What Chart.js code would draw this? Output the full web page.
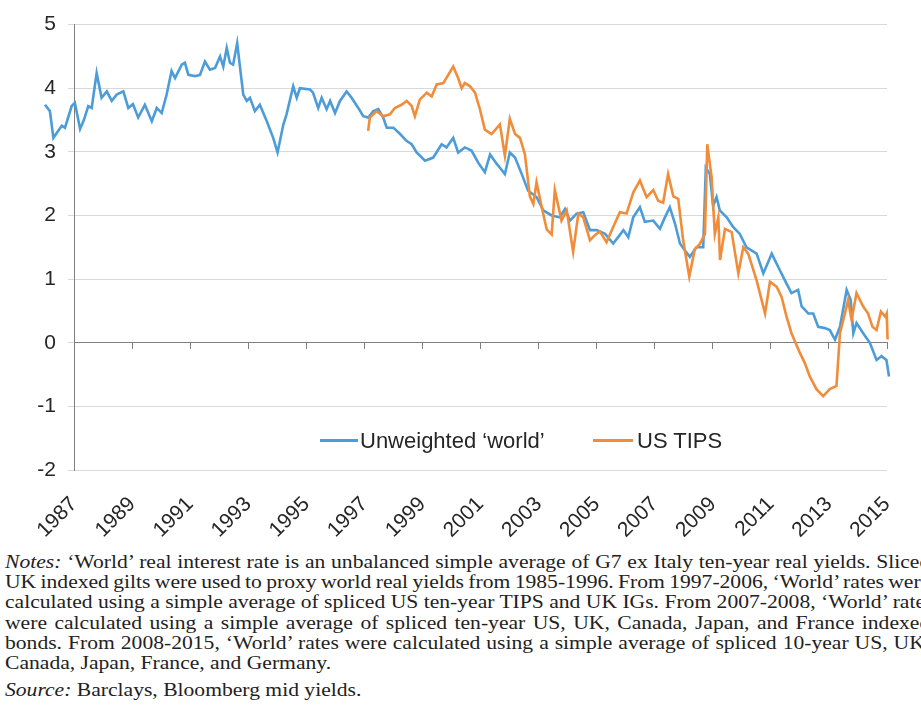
<!DOCTYPE html>
<html>
<head>
<meta charset="utf-8">
<script src="https://cdn.jsdelivr.net/npm/chart.js@4.4.1/dist/chart.umd.min.js"></script>
<style>
  html, body { margin: 0; padding: 0; background: #fff; width: 921px; height: 717px; overflow: hidden; }
  #wrap { position: relative; width: 921px; height: 717px; overflow: hidden; }
  #chart { position: absolute; left: 0; top: 0; }
  .legend { position: absolute; top: 428px; height: 24px; line-height: 24px; font: 22px "Liberation Sans", Arial, sans-serif; color: #262626; white-space: nowrap; }
  .legend .swatch { position: absolute; top: 11px; height: 3px; }
  .notes { position: absolute; left: 5px; top: 552px; font-family: "Liberation Serif", "Times New Roman", serif; font-size: 18px; line-height: 20.2px; color: #222; transform: scaleX(1.2); transform-origin: 0 0; }
  .notes div { width: 771px; white-space: nowrap; text-align: justify; text-align-last: justify; }
  .notes div.tight { word-spacing: -1.6px; }
  .notes div.last { text-align-last: left; }
  .notes div.src { margin-top: 7px; text-align-last: left; }
</style>
</head>
<body>
<div id="wrap">
  <canvas id="chart" width="921" height="540"></canvas>
  <div class="legend" style="left:320px;"><span class="swatch" style="left:0;width:38px;background:#4b9cd8;"></span><span style="margin-left:40px;">Unweighted ‘world’</span></div>
  <div class="legend" style="left:593px;"><span class="swatch" style="left:0;width:40px;background:#f08c3a;"></span><span style="margin-left:44px;">US TIPS</span></div>
  <div class="notes">
    <div><i>Notes:</i> ‘World’ real interest rate is an unbalanced simple average of G7 ex Italy ten-year real yields. Sliced</div>
    <div class="tight">UK indexed gilts were used to proxy world real yields from 1985-1996. From 1997-2006, ‘World’ rates were</div>
    <div>calculated using a simple average of spliced US ten-year TIPS and UK IGs. From 2007-2008, ‘World’ rates</div>
    <div>were calculated using a simple average of spliced ten-year US, UK, Canada, Japan, and France indexed</div>
    <div>bonds. From 2008-2015, ‘World’ rates were calculated using a simple average of spliced 10-year US, UK,</div>
    <div class="last">Canada, Japan, France, and Germany.</div>
    <div class="src"><i>Source:</i> Barclays, Bloomberg mid yields.</div>
  </div>
</div>
<script>
// decimal years and yields (%)
const worldYears = [
  1986.00, 1986.17, 1986.29, 1986.41, 1986.58, 1986.69, 1986.92, 1987.03, 1987.21, 1987.34,
  1987.49, 1987.61, 1987.78, 1987.95, 1988.13, 1988.30, 1988.47, 1988.70, 1988.87, 1989.03,
  1989.21, 1989.44, 1989.68, 1989.85, 1990.02, 1990.19, 1990.36, 1990.48, 1990.71, 1990.82,
  1990.94, 1991.17, 1991.34, 1991.51, 1991.68, 1991.86, 1992.03, 1992.14, 1992.26, 1992.37,
  1992.48, 1992.62, 1992.72, 1992.83, 1992.95, 1993.06, 1993.23, 1993.40, 1993.64, 1993.86,
  1994.01, 1994.21, 1994.32, 1994.55, 1994.67, 1994.78, 1995.13, 1995.23, 1995.41, 1995.53,
  1995.70, 1995.82, 1995.99, 1996.16, 1996.39, 1996.56, 1996.79, 1996.96, 1997.13, 1997.31,
  1997.48, 1997.65, 1997.77, 1998.00, 1998.23, 1998.46, 1998.63, 1998.80, 1999.09, 1999.37,
  1999.66, 1999.83, 2000.06, 2000.23, 2000.46, 2000.69, 2000.92, 2001.15, 2001.33, 2001.56,
  2001.67, 2001.84, 2002.01, 2002.19, 2002.42, 2002.64, 2002.93, 2003.16, 2003.45, 2003.73,
  2003.91, 2004.08, 2004.31, 2004.54, 2004.77, 2005.00, 2005.29, 2005.57, 2005.74, 2005.92,
  2006.09, 2006.26, 2006.49, 2006.66, 2006.95, 2007.18, 2007.35, 2007.52, 2007.70, 2007.87,
  2008.04, 2008.21, 2008.44, 2008.67, 2008.76, 2008.90, 2009.01, 2009.13, 2009.24, 2009.48,
  2009.70, 2009.93, 2010.16, 2010.51, 2010.74, 2011.03, 2011.31, 2011.54, 2011.71, 2011.94,
  2012.06, 2012.29, 2012.46, 2012.63, 2012.86, 2013.03, 2013.21, 2013.38, 2013.61, 2013.75,
  2013.84, 2013.95, 2014.18, 2014.41, 2014.64, 2014.81, 2014.98, 2015.07
];
const worldValues = [
  3.74, 3.64, 3.22, 3.30, 3.41, 3.38, 3.72, 3.77, 3.36, 3.50,
  3.72, 3.69, 4.24, 3.85, 3.95, 3.80, 3.90, 3.95, 3.69, 3.75,
  3.54, 3.74, 3.48, 3.69, 3.61, 3.90, 4.27, 4.16, 4.37, 4.40,
  4.21, 4.19, 4.21, 4.42, 4.29, 4.32, 4.50, 4.34, 4.63, 4.40,
  4.37, 4.71, 4.32, 3.90, 3.80, 3.85, 3.64, 3.74, 3.48, 3.22,
  2.99, 3.43, 3.59, 4.03, 3.85, 4.00, 3.98, 3.93, 3.69, 3.85,
  3.67, 3.80, 3.61, 3.80, 3.95, 3.85, 3.69, 3.56, 3.54, 3.64,
  3.67, 3.54, 3.38, 3.38, 3.28, 3.17, 3.12, 2.99, 2.86, 2.91,
  3.12, 3.07, 3.22, 2.99, 3.07, 3.02, 2.83, 2.68, 2.96, 2.81,
  2.75, 2.65, 2.99, 2.91, 2.65, 2.39, 2.29, 2.08, 2.00, 1.97,
  2.10, 1.92, 2.03, 2.05, 1.77, 1.77, 1.71, 1.56, 1.66, 1.77,
  1.66, 1.97, 2.13, 1.90, 1.92, 1.79, 1.97, 2.13, 1.87, 1.56,
  1.45, 1.35, 1.50, 1.50, 2.75, 2.65, 2.15, 2.29, 2.08, 1.97,
  1.82, 1.71, 1.50, 1.40, 1.09, 1.40, 1.14, 0.93, 0.78, 0.83,
  0.57, 0.46, 0.46, 0.25, 0.23, 0.20, 0.05, 0.25, 0.83, 0.67,
  0.15, 0.31, 0.15, 0.00, -0.27, -0.21, -0.27, -0.53
];
const tipsYears = [
  1997.13, 1997.19, 1997.42, 1997.65, 1997.88, 1998.05, 1998.28, 1998.46, 1998.63, 1998.74,
  1998.91, 1999.15, 1999.32, 1999.49, 1999.72, 1999.89, 2000.06, 2000.23, 2000.35, 2000.46,
  2000.64, 2000.81, 2000.98, 2001.15, 2001.38, 2001.67, 2001.84, 2002.01, 2002.19, 2002.36,
  2002.53, 2002.70, 2002.82, 2002.93, 2003.11, 2003.28, 2003.45, 2003.56, 2003.79, 2003.97,
  2004.19, 2004.37, 2004.54, 2004.77, 2004.94, 2005.11, 2005.34, 2005.57, 2005.80, 2006.03,
  2006.26, 2006.49, 2006.72, 2006.95, 2007.12, 2007.29, 2007.46, 2007.64, 2007.81, 2007.98,
  2008.19, 2008.38, 2008.55, 2008.73, 2008.81, 2008.96, 2009.07, 2009.19, 2009.25, 2009.42,
  2009.65, 2009.88, 2010.05, 2010.22, 2010.51, 2010.80, 2010.97, 2011.20, 2011.37, 2011.54,
  2011.71, 2012.00, 2012.17, 2012.34, 2012.57, 2012.80, 2013.03, 2013.26, 2013.38, 2013.55,
  2013.66, 2013.78, 2013.95, 2014.18, 2014.35, 2014.50, 2014.64, 2014.79, 2014.94, 2014.99,
  2015.02
];
const tipsValues = [
  3.33, 3.54, 3.64, 3.56, 3.59, 3.69, 3.74, 3.80, 3.72, 3.56,
  3.82, 3.93, 3.87, 4.06, 4.08, 4.21, 4.34, 4.16, 4.00, 4.08,
  4.03, 3.93, 3.67, 3.35, 3.28, 3.43, 2.94, 3.52, 3.28, 3.22,
  2.96, 2.30, 2.18, 2.52, 2.13, 1.78, 1.70, 2.40, 1.92, 2.08,
  1.43, 2.03, 1.97, 1.61, 1.69, 1.75, 1.58, 1.82, 2.05, 2.03,
  2.36, 2.55, 2.29, 2.40, 2.23, 2.20, 2.65, 2.30, 2.26, 1.61,
  1.04, 1.47, 1.55, 1.71, 3.12, 2.60, 1.71, 1.97, 1.30, 1.79,
  1.74, 1.09, 1.50, 1.40, 0.98, 0.46, 0.96, 0.88, 0.72, 0.41,
  0.15, -0.16, -0.32, -0.53, -0.73, -0.84, -0.73, -0.68, 0.15, 0.46,
  0.67, 0.36, 0.78, 0.57, 0.46, 0.25, 0.20, 0.49, 0.41, 0.46,
  0.05
];
const yearTicks = [1987, 1989, 1991, 1993, 1995, 1997, 1999, 2001, 2003, 2005, 2007, 2009, 2011, 2013, 2015];
const yTicks = [-2, -1, 0, 1, 2, 3, 4, 5];

const toPoints = (xs, ys) => xs.map((x, i) => ({ x: x, y: ys[i] }));
const xFirst = yearTicks[0];
const xLast = yearTicks[yearTicks.length - 1];
// range set after the data limits so the 1986 points before the axis still get drawn
const fixRange = s => { s.min = xFirst; s.max = xLast; };
const setYearTicks = s => { s.ticks = yearTicks.map(v => ({ value: v })); fixRange(s); };
const tickFont = { family: "Liberation Sans", size: 21 };

new Chart(document.getElementById("chart").getContext("2d"), {
    type: "line",
    data: {
        datasets: [
            {
                label: "Unweighted ‘world’",
                data: toPoints(worldYears, worldValues),
                borderColor: "#4b9cd8",
                borderWidth: 2.6,
                pointRadius: 0,
                tension: 0,
                clip: false,
                order: 2
            },
            {
                label: "US TIPS",
                data: toPoints(tipsYears, tipsValues),
                borderColor: "#f08c3a",
                borderWidth: 2.6,
                pointRadius: 0,
                tension: 0,
                clip: false,
                order: 1
            }
        ]
    },
    options: {
        responsive: false,
        animation: false,
        layout: { padding: { top: 23, right: 34, left: 0, bottom: 0 } },
        plugins: { legend: { display: false }, tooltip: { enabled: false } },
        scales: {
            x: {
                type: "linear",
                position: "bottom",
                bounds: "data",
                afterDataLimits: fixRange,
                afterBuildTicks: setYearTicks,
                afterFit: s => { s.height = 70; },
                grid: { display: false },
                border: { display: false },
                ticks: {
                    autoSkip: false, minRotation: 45, maxRotation: 45, padding: 14,
                    color: "#262626", font: tickFont,
                    callback: v => String(v)
                }
            },
            x0: {
                type: "linear",
                axis: "x",
                position: { y: 0 },
                min: xFirst,
                max: xLast,
                afterBuildTicks: setYearTicks,
                grid: { drawOnChartArea: false, drawTicks: true, tickLength: 6, color: "#7f7f7f" },
                border: { display: true, color: "#7f7f7f", width: 1 },
                ticks: { display: false }
            },
            y: {
                min: -2,
                max: 5,
                afterBuildTicks: s => { s.ticks = yTicks.map(v => ({ value: v })); },
                afterFit: s => { s.width = 74; },
                grid: { color: "#d9d9d9", tickLength: 6 },
                border: { color: "#7f7f7f" },
                ticks: { padding: 12, color: "#262626", font: tickFont }
            }
        }
    }
});
</script>
</body>
</html>
